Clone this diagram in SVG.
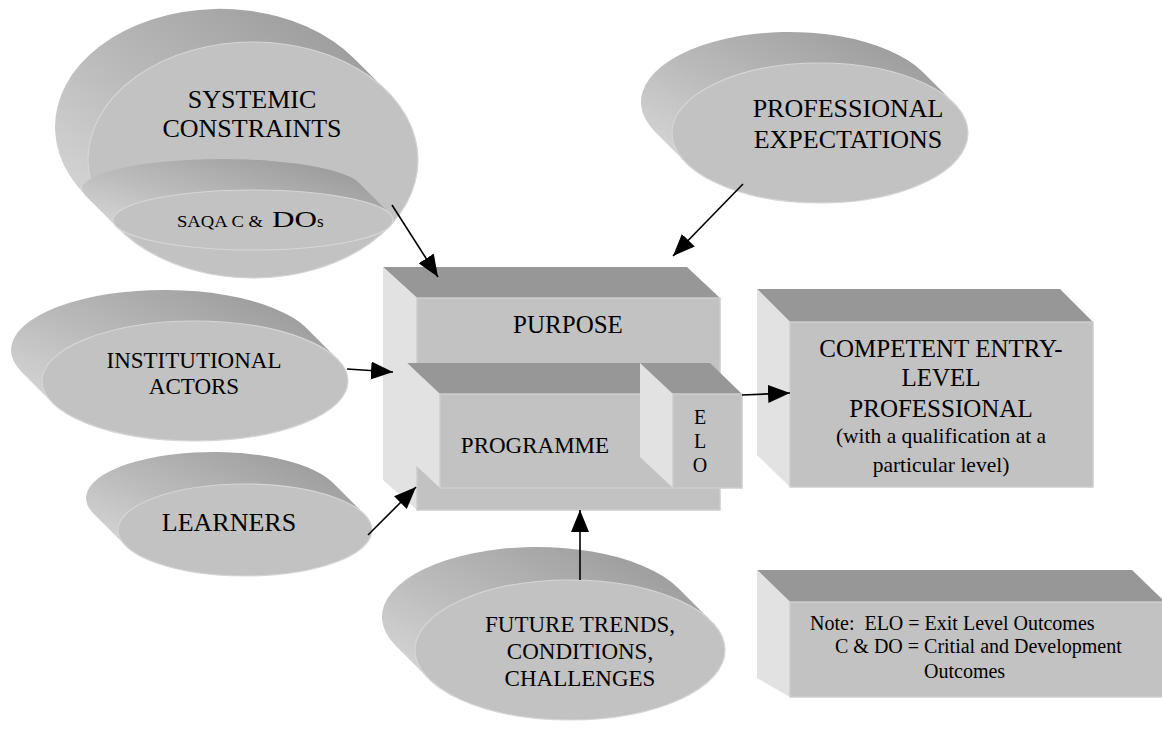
<svg xmlns="http://www.w3.org/2000/svg" width="1162" height="742" viewBox="0 0 1162 742">
  <defs>
    <!-- shading for the extruded rim of each disc -->
    <linearGradient id="rim" x1="0" y1="1" x2="1" y2="0">
      <stop offset="0" stop-color="#e4e4e4"/>
      <stop offset="0.45" stop-color="#bcbcbc"/>
      <stop offset="1" stop-color="#929292"/>
    </linearGradient>
    <marker id="ah" viewBox="0 0 22 18" refX="22" refY="9" markerWidth="22" markerHeight="18" markerUnits="userSpaceOnUse" orient="auto">
      <path d="M0,0 L22,9 L0,18 Z" fill="#000"/>
    </marker>
    <style>
      .rim { fill: url(#rim); }
      .disc { fill: #c2c2c2; stroke: #d6d6d6; stroke-width: 1.2; }
      .top { fill: #979797; }
      .side { fill: #e2e2e2; }
      .front { fill: #c2c2c2; stroke: #cdcdcd; stroke-width: 1.5; }
      .lbl { font-family: "Liberation Serif", "Times New Roman", serif; fill: #000; text-anchor: middle; }
      .conn { stroke: #000; stroke-width: 1.6; fill: none; marker-end: url(#ah); }
    </style>
  </defs>

  <!-- Systemic constraints disc with the SAQA disc in front of it -->
  <g id="systemic-constraints">
    <path class="rim" d="M354.2,58.4 A165,118 0 0 0 124,31 A165,118 0 0 0 85.8,195.6 L118.8,228.6 A165,118 0 0 0 349,256 A165,118 0 0 0 387.2,91.4 Z"/>
    <ellipse class="disc" cx="253" cy="160" rx="165" ry="118"/>
    <text class="lbl" x="252" y="108" font-size="26">SYSTEMIC</text>
    <text class="lbl" x="252" y="137" font-size="26">CONSTRAINTS</text>
  </g>
  <g id="saqa-outcomes">
    <path class="rim" d="M358.9,182.7 A140,30 0 0 0 192.7,159.7 A140,30 0 0 0 85.1,195.3 L116.1,226.3 A140,30 0 0 0 282.3,249.3 A140,30 0 0 0 389.9,213.7 Z"/>
    <ellipse class="disc" cx="253" cy="220" rx="140" ry="30"/>
    <text class="lbl" x="177" y="227" font-size="17" style="text-anchor:start" textLength="86" lengthAdjust="spacingAndGlyphs">SAQA C &amp;</text>
    <text class="lbl" x="272" y="227" font-size="24" style="text-anchor:start" textLength="45" lengthAdjust="spacingAndGlyphs">DO</text>
    <text class="lbl" x="317" y="227" font-size="17" style="text-anchor:start">s</text>
  </g>

  <g id="professional-expectations">
    <path class="rim" d="M922.8,72.1 A148,70 0 0 0 725.7,38.7 A148,70 0 0 0 655.2,131.9 L686.2,162.9 A148,70 0 0 0 883.3,196.3 A148,70 0 0 0 953.8,103.1 Z"/>
    <ellipse class="disc" cx="820" cy="133" rx="148" ry="70"/>
    <text class="lbl" x="848" y="117" font-size="26">PROFESSIONAL</text>
    <text class="lbl" x="848" y="148" font-size="26">EXPECTATIONS</text>
  </g>

  <g id="institutional-actors">
    <path class="rim" d="M306.4,328.1 A153,60 0 0 0 108.1,294.1 A153,60 0 0 0 21.6,371.9 L52.6,402.9 A153,60 0 0 0 250.9,436.9 A153,60 0 0 0 337.4,359.1 Z"/>
    <ellipse class="disc" cx="195" cy="381" rx="153" ry="60"/>
    <text class="lbl" x="194" y="368" font-size="23">INSTITUTIONAL</text>
    <text class="lbl" x="194" y="394" font-size="23">ACTORS</text>
  </g>

  <g id="learners">
    <path class="rim" d="M332.4,482.3 A127,46 0 0 0 169.8,454.8 A127,46 0 0 0 93.6,513.7 L125.6,545.7 A127,46 0 0 0 288.2,573.2 A127,46 0 0 0 364.4,514.3 Z"/>
    <ellipse class="disc" cx="245" cy="530" rx="127" ry="46"/>
    <text class="lbl" x="229" y="531" font-size="26">LEARNERS</text>
  </g>

  <g id="future-trends">
    <path class="rim" d="M678.3,588.2 A155,70 0 0 0 473.2,553.2 A155,70 0 0 0 395.7,645.8 L428.7,678.8 A155,70 0 0 0 633.8,713.8 A155,70 0 0 0 711.3,621.2 Z"/>
    <ellipse class="disc" cx="570" cy="650" rx="155" ry="70"/>
    <text class="lbl" x="580" y="632" font-size="23">FUTURE TRENDS,</text>
    <text class="lbl" x="580" y="659" font-size="23">CONDITIONS,</text>
    <text class="lbl" x="580" y="686" font-size="23">CHALLENGES</text>
  </g>

  <!-- Purpose block holding the programme block -->
  <g id="purpose">
    <polygon class="top" points="383,267 687,267 720,298 417,298"/>
    <polygon class="side" points="383,267 417,298 417,510 383,480"/>
    <rect class="front" x="417" y="298" width="303" height="212"/>
    <text class="lbl" x="568" y="333" font-size="25">PURPOSE</text>
  </g>

  <g id="programme">
    <polygon class="top" points="407,363 710,363 742,394 440,394"/>
    <polygon class="side" points="407,363 440,394 440,488 407,457"/>
    <rect class="front" x="440" y="394" width="233" height="94"/>
    <text class="lbl" x="535" y="453" font-size="23">PROGRAMME</text>
  </g>

  <g id="elo">
    <polygon class="side" points="640,363 673,394 673,488 640,457"/>
    <rect class="front" x="673" y="394" width="69" height="94"/>
    <text class="lbl" x="700" y="424" font-size="20">E</text>
    <text class="lbl" x="700" y="448" font-size="20">L</text>
    <text class="lbl" x="700" y="472" font-size="20">O</text>
  </g>

  <g id="competent-professional">
    <polygon class="top" points="757,289 1060,289 1093,322 790,322"/>
    <polygon class="side" points="757,289 790,322 790,487 757,455"/>
    <rect class="front" x="790" y="322" width="303" height="165"/>
    <text class="lbl" x="941" y="357" font-size="25">COMPETENT ENTRY-</text>
    <text class="lbl" x="941" y="386" font-size="25">LEVEL</text>
    <text class="lbl" x="941" y="417" font-size="25">PROFESSIONAL</text>
    <text class="lbl" x="941" y="443" font-size="21.5">(with a qualification at a</text>
    <text class="lbl" x="941" y="472" font-size="21.5">particular level)</text>
  </g>

  <g id="note">
    <polygon class="top" points="757,570 1132,570 1165,602 790,602"/>
    <polygon class="side" points="757,570 790,602 790,697 757,678"/>
    <rect class="front" x="790" y="602" width="376" height="95"/>
    <text class="lbl" x="810" y="630" font-size="20" style="text-anchor:start" xml:space="preserve">Note:  ELO = Exit Level Outcomes</text>
    <text class="lbl" x="835" y="653" font-size="20" style="text-anchor:start">C &amp; DO = Critial and Development</text>
    <text class="lbl" x="924" y="678" font-size="20" style="text-anchor:start">Outcomes</text>
  </g>

  <!-- Connectors -->
  <g id="connectors">
    <line class="conn" x1="392" y1="205" x2="438" y2="277"/>
    <line class="conn" x1="743" y1="184" x2="673" y2="256"/>
    <line class="conn" x1="347" y1="369" x2="393" y2="372"/>
    <line class="conn" x1="368" y1="535" x2="416" y2="487"/>
    <line class="conn" x1="580" y1="580" x2="580" y2="510"/>
    <line class="conn" x1="742" y1="395" x2="790" y2="393"/>
  </g>
</svg>
